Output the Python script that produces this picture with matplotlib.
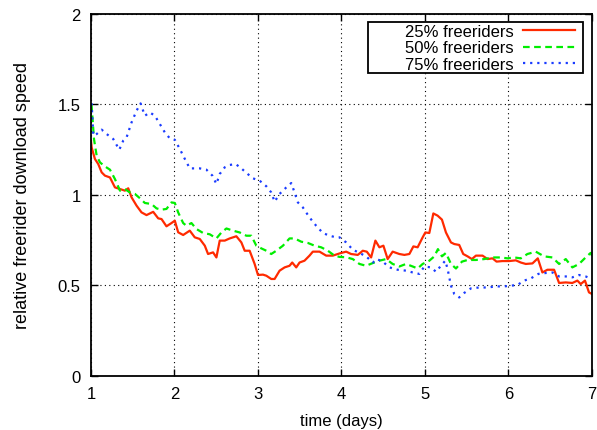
import numpy as np
import matplotlib
matplotlib.use('Agg')
import matplotlib.pyplot as plt
from matplotlib.patches import Rectangle

plt.rcParams['font.family'] = ['Liberation Sans', 'DejaVu Sans']
plt.rcParams['font.size'] = 12

# 25% freeriders
red_t = [1.0, 1.008, 1.047, 1.087, 1.128, 1.167, 1.227, 1.287, 1.347, 1.406, 1.446, 1.486,
         1.546, 1.605, 1.665, 1.745, 1.805, 1.845, 1.904, 1.964, 2.004, 2.044, 2.104, 2.183,
         2.243, 2.303, 2.363, 2.402, 2.462, 2.502, 2.542, 2.602, 2.661, 2.741, 2.801, 2.841,
         2.900, 2.960, 3.000, 3.060, 3.100, 3.159, 3.199, 3.259, 3.319, 3.378, 3.410, 3.458,
         3.498, 3.557, 3.617, 3.657, 3.737, 3.817, 3.896, 3.976, 4.056, 4.115, 4.195, 4.255,
         4.303, 4.355, 4.406, 4.454, 4.502, 4.553, 4.613, 4.693, 4.753, 4.813, 4.861, 4.912,
         4.972, 5.004, 5.052, 5.100, 5.151, 5.203, 5.251, 5.311, 5.351, 5.410, 5.458, 5.510,
         5.562, 5.610, 5.689, 5.749, 5.809, 5.857, 5.928, 6.008, 6.088, 6.147, 6.207, 6.287,
         6.351, 6.406, 6.466, 6.546, 6.606, 6.686, 6.765, 6.825, 6.865, 6.916, 6.964, 7.0]
red_v = [1.30, 1.263, 1.199, 1.171, 1.125, 1.107, 1.097, 1.042, 1.033, 1.024, 1.037, 0.987,
         0.941, 0.904, 0.889, 0.907, 0.871, 0.867, 0.827, 0.845, 0.858, 0.794, 0.779, 0.803,
         0.766, 0.757, 0.720, 0.674, 0.683, 0.655, 0.748, 0.748, 0.760, 0.772, 0.738, 0.692,
         0.692, 0.619, 0.558, 0.560, 0.554, 0.536, 0.536, 0.582, 0.600, 0.609, 0.627, 0.600,
         0.627, 0.637, 0.665, 0.687, 0.687, 0.665, 0.665, 0.677, 0.687, 0.674, 0.669, 0.692,
         0.687, 0.655, 0.748, 0.711, 0.720, 0.646, 0.687, 0.674, 0.669, 0.674, 0.716, 0.711,
         0.766, 0.793, 0.790, 0.898, 0.886, 0.864, 0.793, 0.738, 0.729, 0.724, 0.674, 0.661,
         0.646, 0.665, 0.665, 0.646, 0.650, 0.632, 0.635, 0.635, 0.639, 0.627, 0.619, 0.622,
         0.650, 0.572, 0.587, 0.587, 0.514, 0.517, 0.514, 0.527, 0.508, 0.527, 0.462, 0.453]

# 50% freeriders
green_t = [1.0, 1.008, 1.036, 1.068, 1.108, 1.167, 1.227, 1.287, 1.347, 1.406, 1.466, 1.526,
           1.586, 1.645, 1.725, 1.785, 1.845, 1.904, 1.964, 2.004, 2.044, 2.104, 2.143, 2.203,
           2.263, 2.343, 2.422, 2.502, 2.562, 2.622, 2.701, 2.781, 2.861, 2.920, 2.980, 3.040,
           3.100, 3.159, 3.219, 3.299, 3.378, 3.438, 3.518, 3.598, 3.677, 3.757, 3.837, 3.916,
           3.976, 4.056, 4.135, 4.215, 4.295, 4.375, 4.454, 4.534, 4.613, 4.693, 4.773, 4.853,
           4.912, 4.972, 5.052, 5.112, 5.155, 5.203, 5.251, 5.311, 5.371, 5.443, 5.510, 5.610,
           5.709, 5.809, 5.908, 5.988, 6.068, 6.147, 6.227, 6.327, 6.426, 6.526, 6.606, 6.686,
           6.765, 6.845, 6.924, 6.984, 7.0]
green_v = [1.50, 1.49, 1.309, 1.217, 1.180, 1.158, 1.140, 1.088, 1.024, 1.033, 1.014, 1.006,
           0.982, 0.956, 0.950, 0.926, 0.919, 0.923, 0.959, 0.956, 0.904, 0.845, 0.830, 0.845,
           0.812, 0.790, 0.783, 0.760, 0.793, 0.815, 0.803, 0.793, 0.775, 0.775, 0.720, 0.705,
           0.692, 0.674, 0.692, 0.720, 0.760, 0.760, 0.742, 0.735, 0.720, 0.711, 0.692, 0.665,
           0.658, 0.656, 0.646, 0.619, 0.609, 0.624, 0.637, 0.646, 0.619, 0.605, 0.619, 0.605,
           0.594, 0.619, 0.637, 0.661, 0.701, 0.661, 0.680, 0.619, 0.594, 0.632, 0.641, 0.641,
           0.646, 0.655, 0.655, 0.650, 0.655, 0.650, 0.674, 0.687, 0.661, 0.655, 0.619, 0.646,
           0.600, 0.619, 0.655, 0.680, 0.665]

# 75% freeriders
blue_t = [1.0, 1.008, 1.028, 1.068, 1.128, 1.187, 1.267, 1.339, 1.386, 1.426, 1.486, 1.546,
          1.594, 1.645, 1.705, 1.765, 1.825, 1.884, 1.944, 2.004, 2.064, 2.124, 2.183, 2.243,
          2.303, 2.382, 2.454, 2.502, 2.542, 2.602, 2.661, 2.733, 2.801, 2.861, 2.940, 3.020,
          3.100, 3.159, 3.199, 3.259, 3.339, 3.398, 3.438, 3.478, 3.538, 3.617, 3.697, 3.777,
          3.857, 3.936, 3.976, 4.056, 4.135, 4.215, 4.295, 4.375, 4.422, 4.494, 4.574, 4.673,
          4.773, 4.853, 4.932, 4.992, 5.072, 5.131, 5.191, 5.243, 5.271, 5.311, 5.351, 5.410,
          5.470, 5.550, 5.649, 5.749, 5.849, 5.948, 6.028, 6.108, 6.187, 6.267, 6.358, 6.446,
          6.526, 6.606, 6.686, 6.765, 6.845, 6.924, 6.984, 7.0]
blue_v = [1.50, 1.503, 1.328, 1.337, 1.361, 1.337, 1.309, 1.250, 1.300, 1.318, 1.401, 1.466,
          1.506, 1.438, 1.456, 1.438, 1.392, 1.346, 1.313, 1.305, 1.254, 1.199, 1.147, 1.147,
          1.147, 1.140, 1.107, 1.061, 1.116, 1.153, 1.166, 1.171, 1.147, 1.122, 1.092, 1.079,
          1.048, 1.014, 0.963, 1.006, 1.042, 1.066, 1.014, 0.959, 0.931, 0.876, 0.830, 0.790,
          0.775, 0.766, 0.766, 0.738, 0.698, 0.680, 0.661, 0.627, 0.646, 0.632, 0.600, 0.587,
          0.582, 0.572, 0.564, 0.605, 0.600, 0.576, 0.609, 0.637, 0.591, 0.499, 0.453, 0.434,
          0.459, 0.484, 0.489, 0.489, 0.495, 0.495, 0.499, 0.503, 0.527, 0.539, 0.564, 0.569,
          0.572, 0.550, 0.550, 0.545, 0.558, 0.550, 0.539, 0.54]

fig = plt.figure(figsize=(5.97, 4.31), dpi=100)
ax = fig.add_axes([0.1524, 0.1253, 0.8392, 0.8399])

ax.plot(red_t, red_v, color='#ff2a00', lw=1.6, label='25% freeriders')
ax.plot(green_t, green_v, color='#00ee00', lw=1.6, ls=(0, (3, 2)), label='50% freeriders')
ax.plot(blue_t, blue_v, color='#1a3cff', lw=1.6, ls=(0, (1, 2.2)), label='75% freeriders')

ax.set_xlim(1, 7)
ax.set_ylim(0, 2)
ax.set_xticks([1, 2, 3, 4, 5, 6, 7])
ax.set_yticks([0, 0.5, 1, 1.5, 2])
ax.set_yticklabels(['0', '0.5', '1', '1.5', '2'])
ax.grid(True, color='black', ls=(0, (1, 3)), lw=0.8)
ax.tick_params(direction='in', top=True, right=True, length=5, width=1, pad=7.5)
for s in ax.spines.values():
    s.set_linewidth(1.3)

ax.set_xlabel('time (days)', labelpad=8)
ax.set_ylabel('relative freerider download speed', fontsize=13, labelpad=19)

# gnuplot-style key: labels right aligned, box drawn separately
leg = ax.legend(loc='upper right', bbox_to_anchor=(0.966, 0.972), markerfirst=False,
                frameon=False, handlelength=3.1, borderpad=0, labelspacing=0.08,
                handletextpad=0.6, borderaxespad=0)
for t in leg.get_texts():
    t.set_ha('right')
ax.add_patch(Rectangle((0.553, 0.837), 0.429, 0.141, transform=ax.transAxes,
                       fill=True, facecolor='white', edgecolor='black', lw=1.3, zorder=4.5))
leg.set_zorder(5)

fig.savefig('out.png', dpi=100)
